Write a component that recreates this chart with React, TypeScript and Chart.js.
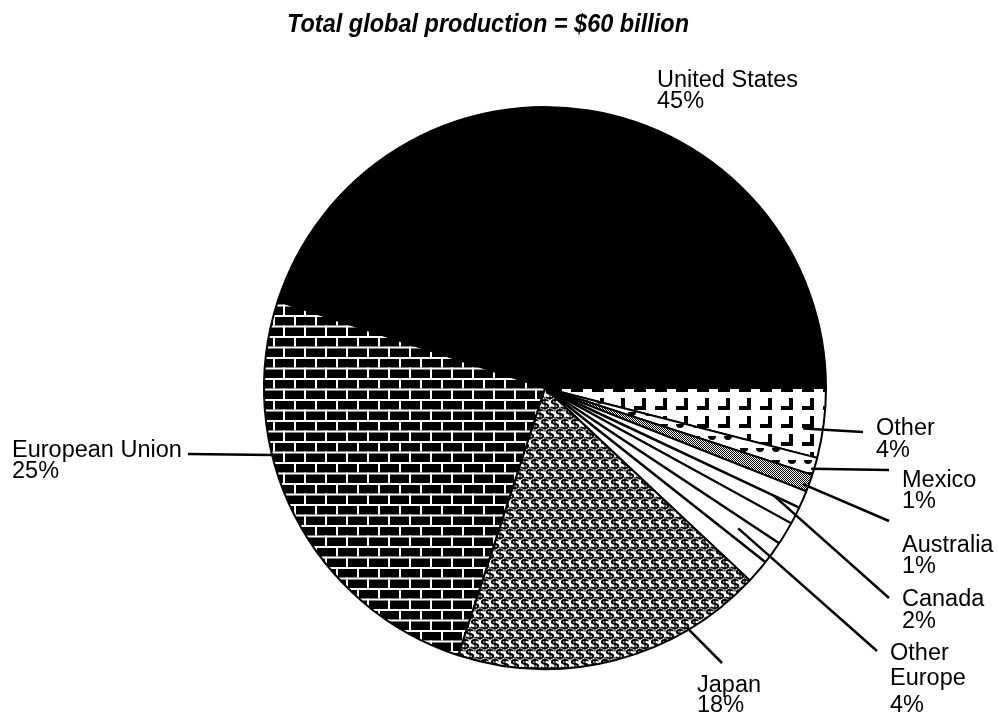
import React, { useEffect, useRef } from "react";
import { Chart, registerables } from "chart.js";

Chart.register(...registerables);

const titleText = "Total global production = $60 billion";
const categories = ["United States", "Other", "Mexico", "Australia", "Canada", "Other Europe", "Japan", "European Union"];
const shares = [45, 4, 1, 1, 2, 4, 18, 25];
const labelNameLines = [["United States"], ["Other"], ["Mexico"], ["Australia"], ["Canada"], ["Other", "Europe"], ["Japan"], ["European Union"]];

// layout for labels (text left x, baselines) and leader lines
const labelLayout = [
  { x: 657, ys: [87, 108], leader: null },
  { x: 876, ys: [435, 457], leader: { frac: 0.62, rf: 0.93, ex: 863, ey: 432 } },
  { x: 902, ys: [487, 508], leader: { frac: 0.69, rf: 0.99, ex: 889, ey: 470 } },
  { x: 902, ys: [552, 573], leader: { frac: 0.67, rf: 0.98, ex: 889, ey: 521 } },
  { x: 902, ys: [606, 628], leader: { frac: 0.5, rf: 0.9, ex: 889, ey: 598 } },
  { x: 890, ys: [660, 685, 712], leader: { frac: 0.5, rf: 0.85, ex: 877, ey: 651 } },
  { x: 697, ys: [692, 712], leader: { frac: 0.25, rf: 0.99, ex: 722, ey: 663 } },
  { x: 12, ys: [457, 478], leader: { frac: 0.647, rf: 1.0, ex: 188, ey: 454 } },
];
// extra inner stripes (fractions of slice angle) for line-hatched slices
const innerStripes: Record<number, number[]> = { 4: [0.5], 5: [0.33, 0.66] };

function makeTile(w: number, h: number, draw: (c: CanvasRenderingContext2D) => void) {
  const cv = document.createElement("canvas");
  cv.width = w;
  cv.height = h;
  const c = cv.getContext("2d")!;
  draw(c);
  return cv;
}

function buildPatterns(ctx: CanvasRenderingContext2D) {
  const other = makeTile(21, 18, (c) => {
    c.fillStyle = "#fff";
    c.fillRect(0, 0, 21, 18);
    c.fillStyle = "#000";
    c.fillRect(12, 2, 4, 12);
    c.fillRect(4, 10, 12, 4);
  });
  const mexico = makeTile(16, 12, (c) => {
    c.fillStyle = "#fff";
    c.fillRect(0, 0, 16, 12);
    c.fillStyle = "#000";
    c.beginPath();
    c.arc(8, 4, 4, 0, Math.PI);
    c.fill();
  });
  const australia = makeTile(2, 2, (c) => {
    c.fillStyle = "#fff";
    c.fillRect(0, 0, 2, 2);
    c.fillStyle = "#000";
    c.fillRect(0, 0, 1, 1);
    c.fillRect(1, 1, 1, 1);
  });
  const japan = makeTile(20, 20, (c) => {
    c.fillStyle = "#fff";
    c.fillRect(0, 0, 20, 20);
    c.fillStyle = "#000";
    c.font = 'bold 15px "DejaVu Sans", sans-serif';
    c.textBaseline = "middle";
    c.textAlign = "center";
    const pts = [[5, 5], [15, 5], [0, 15], [10, 15], [20, 15], [5, 25], [15, 25], [5, -5], [15, -5]];
    pts.forEach(([x, y]) => c.fillText("$", x, y));
  });
  const brick = makeTile(21, 21, (c) => {
    c.fillStyle = "#000";
    c.fillRect(0, 0, 21, 21);
    c.fillStyle = "#fff";
    c.fillRect(0, 0, 21, 2);
    c.fillRect(0, 10.5, 21, 2);
    c.fillRect(0, 0, 2, 10.5);
    c.fillRect(10, 10.5, 2, 10.5);
  });
  const p = (cv: HTMLCanvasElement) => ctx.createPattern(cv, "repeat")!;
  return ["#000000", p(other), p(mexico), p(australia), "#ffffff", "#ffffff", p(japan), p(brick)];
}

const annotPlugin = {
  id: "annot",
  afterDraw(chart: any) {
    const ctx: CanvasRenderingContext2D = chart.ctx;
    const meta = chart.getDatasetMeta(0);
    ctx.save();
    ctx.strokeStyle = "#000";
    ctx.lineWidth = 2.5;
    // inner stripes
    Object.keys(innerStripes).forEach((k) => {
      const i = Number(k);
      const arc = meta.data[i];
      innerStripes[i].forEach((f) => {
        const a = arc.startAngle + f * (arc.endAngle - arc.startAngle);
        ctx.beginPath();
        ctx.moveTo(arc.x, arc.y);
        ctx.lineTo(arc.x + arc.outerRadius * Math.cos(a), arc.y + arc.outerRadius * Math.sin(a));
        ctx.stroke();
      });
    });
    // leaders
    ctx.lineWidth = 2.5;
    labelLayout.forEach((L, i) => {
      if (!L.leader) return;
      const arc = meta.data[i];
      const a = arc.startAngle + L.leader.frac * (arc.endAngle - arc.startAngle);
      const r = arc.outerRadius * L.leader.rf;
      ctx.beginPath();
      ctx.moveTo(arc.x + r * Math.cos(a), arc.y + r * Math.sin(a));
      ctx.lineTo(L.leader.ex, L.leader.ey);
      ctx.stroke();
    });
    // labels
    ctx.fillStyle = "#000";
    ctx.font = '23.5px "Liberation Sans", Arial, sans-serif';
    ctx.textAlign = "left";
    ctx.textBaseline = "alphabetic";
    labelLayout.forEach((L, i) => {
      const lines = [...labelNameLines[i], `${shares[i]}%`];
      lines.forEach((t, j) => ctx.fillText(t, L.x, L.ys[j]));
    });
    // title
    ctx.font = 'italic bold 26px "Liberation Sans", Arial, sans-serif';
    const w = ctx.measureText(titleText).width;
    const s = 402 / w;
    ctx.translate(488, 32);
    ctx.scale(s, 1);
    ctx.textAlign = "center";
    ctx.fillText(titleText, 0, 0);
    ctx.restore();
  },
};

export default function App() {
  const ref = useRef<HTMLCanvasElement>(null);
  useEffect(() => {
    document.body.style.margin = "0";
    const canvas = ref.current!;
    const ctx = canvas.getContext("2d")!;
    const chart = new Chart(canvas, {
      type: "pie",
      data: {
        labels: categories,
        datasets: [
          {
            data: shares,
            backgroundColor: buildPatterns(ctx) as any,
            borderColor: "#000",
            borderWidth: 2,
          },
        ],
      },
      options: {
        responsive: false,
        animation: false,
        rotation: -72,
        layout: { padding: { left: 263, top: 106, right: 171, bottom: 46 } },
        plugins: { legend: { display: false }, tooltip: { enabled: false }, title: { display: false } },
      },
      plugins: [annotPlugin],
    });
    return () => chart.destroy();
  }, []);
  return (
    <div style={{ width: 998, height: 716, background: "#fff" }}>
      <canvas ref={ref} width={998} height={716} style={{ display: "block" }} />
    </div>
  );
}
